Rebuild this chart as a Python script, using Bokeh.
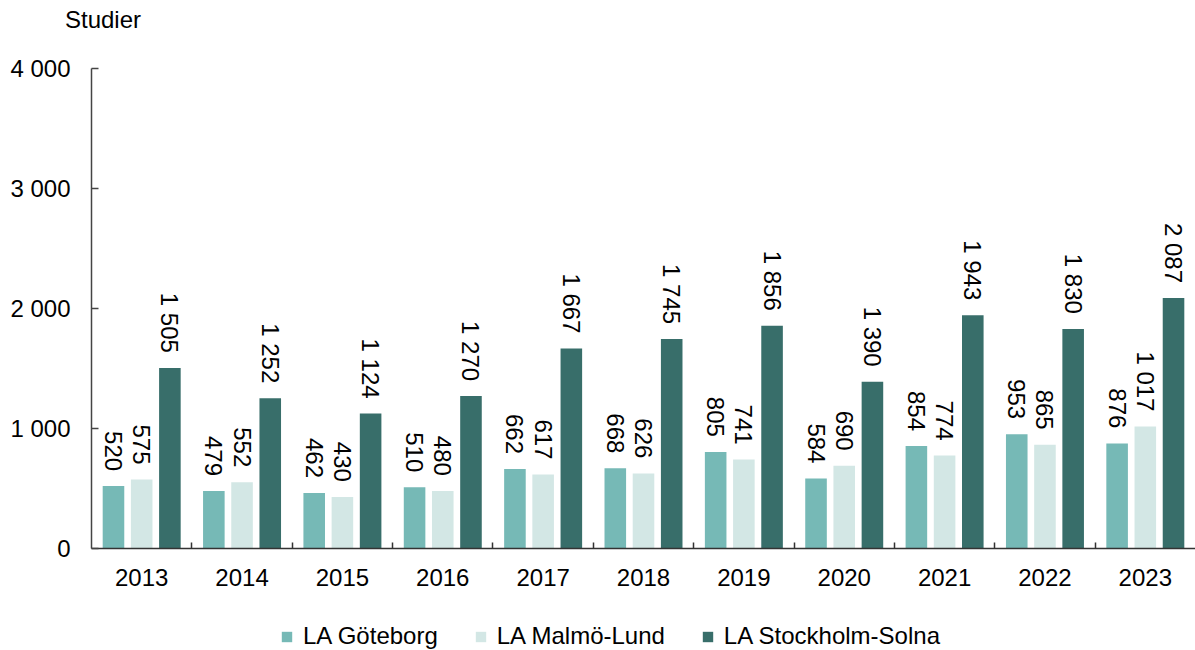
import math
from bokeh.plotting import figure
from bokeh.layouts import column
from bokeh.models import ColumnDataSource, Range1d, FixedTicker, Legend, LegendItem, Div
from bokeh.embed import file_html
from bokeh.core.properties import value
from bokeh.resources import INLINE

# ---- data ----
years = ["2013", "2014", "2015", "2016", "2017", "2018", "2019", "2020", "2021", "2022", "2023"]
goteborg = [520, 479, 462, 510, 662, 668, 805, 584, 854, 953, 876]
malmo_lund = [575, 552, 430, 480, 617, 626, 741, 690, 774, 865, 1017]
stockholm_solna = [1505, 1252, 1124, 1270, 1667, 1745, 1856, 1390, 1943, 1830, 2087]
series_names = ["LA Göteborg", "LA Malmö-Lund", "LA Stockholm-Solna"]
y_ticks = [0, 1000, 2000, 3000, 4000]
y_tick_labels = ["0", "1 000", "2 000", "3 000", "4 000"]
y_title = "Studier"

# ---- style ----
colors = ["#76B9B6", "#D3E7E5", "#386E6A"]
FONT = "Liberation Sans"
FS = "24px"
W = 1195
HEADER_H = 40
MAIN_TOP = 28
FRAME_H = 480
FRAME_LEFT = 91
MAIN_BOTTOM = 50
LEGEND_H = 52
Y_MAX = 4000
offsets = [-0.281, 0.0, 0.281]
BAR_W = 0.215
LABEL_GAP_PX = 15


def bare(fig):
    fig.outline_line_color = None
    fig.background_fill_color = "white"
    fig.border_fill_color = "white"
    fig.xgrid.visible = False
    fig.ygrid.visible = False
    return fig


# ---- header with the unit title ----
header = Div(text=y_title, width=W, height=HEADER_H, margin=0,
             styles={"font-family": FONT, "font-size": FS, "color": "#000000",
                     "padding-left": "65px", "padding-top": "6px", "line-height": "1.15",
                     "box-sizing": "border-box"})

# ---- main chart ----
p = bare(figure(width=W, height=MAIN_TOP + FRAME_H + MAIN_BOTTOM,
                x_range=Range1d(0, len(years)), y_range=Range1d(0, Y_MAX),
                output_backend="svg", toolbar_location=None,
                min_border_left=FRAME_LEFT, min_border_right=0, min_border_top=MAIN_TOP,
                min_border_bottom=MAIN_BOTTOM))

centers = [i + 0.5 for i in range(len(years))]
gap_data = LABEL_GAP_PX * Y_MAX / FRAME_H
for vals, off, col in zip([goteborg, malmo_lund, stockholm_solna], offsets, colors):
    src = ColumnDataSource(dict(
        x=[c + off for c in centers],
        top=vals,
        ly=[v + gap_data for v in vals],
        lbl=[f"{v:,}".replace(",", " ") for v in vals],
    ))
    p.vbar(x="x", top="top", width=BAR_W, source=src, fill_color=col, line_color=None)
    p.text(x="x", y="ly", text="lbl", source=src, angle=-math.pi / 2,
           text_align="right", text_baseline="middle",
           text_font=value(FONT), text_font_size=FS, text_color="#000000")

# x axis
p.xaxis.ticker = FixedTicker(ticks=centers, minor_ticks=list(range(1, len(years))))
p.xaxis.major_label_overrides = {c: y for c, y in zip(centers, years)}
p.xaxis.major_tick_line_color = None
p.xaxis.minor_tick_in = 6
p.xaxis.minor_tick_out = 0
p.xaxis.minor_tick_line_color = "#333333"
p.xaxis.minor_tick_line_width = 1.5
p.xaxis.axis_line_color = "#333333"
p.xaxis.axis_line_width = 1.5
p.xaxis.major_label_standoff = 14
p.xaxis.major_label_text_font = FONT
p.xaxis.major_label_text_font_size = FS
p.xaxis.major_label_text_color = "#000000"

# y axis
p.yaxis.ticker = FixedTicker(ticks=y_ticks)
p.yaxis.major_label_overrides = {t: l for t, l in zip(y_ticks, y_tick_labels)}
p.yaxis.major_tick_in = 7
p.yaxis.major_tick_out = 0
p.yaxis.minor_tick_line_color = None
p.yaxis.major_tick_line_color = "#444444"
p.yaxis.major_tick_line_width = 1.5
p.yaxis.axis_line_color = "#444444"
p.yaxis.axis_line_width = 1.5
p.yaxis.major_label_standoff = 21
p.yaxis.major_label_text_font = FONT
p.yaxis.major_label_text_font_size = FS
p.yaxis.major_label_text_color = "#000000"

# ---- legend strip (frame aligned with the main chart's frame) ----
lf = bare(figure(width=W, height=LEGEND_H, x_axis_type=None, y_axis_type=None,
                 x_range=Range1d(0, 1), y_range=Range1d(0, 1),
                 output_backend="svg", toolbar_location=None,
                 min_border_left=FRAME_LEFT, min_border_right=0,
                 min_border_top=0, min_border_bottom=0))
leg_renderers = []
for col in colors:
    # zero-height proxy bars: only their legend swatches show
    leg_renderers.append(lf.vbar(x=[0], top=[0], bottom=[0], width=0.01, fill_color=col, line_color=None))
legend = Legend(items=[LegendItem(label=n, renderers=[r]) for n, r in zip(series_names, leg_renderers)],
                orientation="horizontal", location=(280 - FRAME_LEFT, 0),
                glyph_width=13, glyph_height=13, label_standoff=10, spacing=36,
                padding=0, margin=0, border_line_color=None, background_fill_alpha=0,
                label_text_font=FONT, label_text_font_size=FS, label_text_color="#000000")
lf.add_layout(legend, "center")

layout = column(header, p, lf, spacing=0)
open("out.html", "w").write(file_html(layout, INLINE))
